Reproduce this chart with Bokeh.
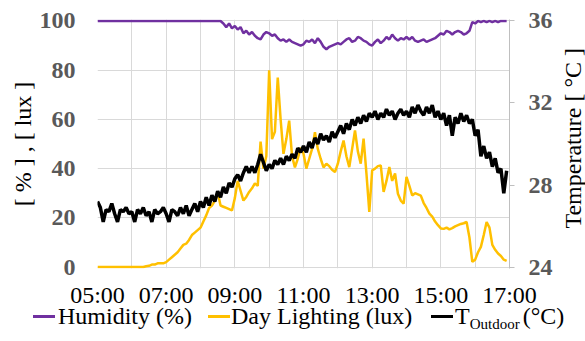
import numpy as np
from bokeh.plotting import figure
from bokeh.layouts import column, row
from bokeh.models import Range1d, LinearAxis, FixedTicker, Div
from bokeh.embed import file_html
from bokeh.resources import INLINE

# ---------------- data ----------------
x_ticks = [5, 7, 9, 11, 13, 15, 17]
x_tick_labels = ["05:00", "07:00", "09:00", "11:00", "13:00", "15:00", "17:00"]
grid_hours = [5, 6, 7, 8, 9, 10, 11, 12, 13, 14, 15, 16, 17]
left_ticks = [0, 20, 40, 60, 80, 100]
right_ticks = [24, 28, 32, 36]

start_hour = 5.0
step_minutes = 5

# Humidity (%) every 5 min from 05:00
humidity = [
    100, 100, 100, 100, 100, 100, 100, 100, 100, 100, 100, 100,
    100, 100, 100, 100, 100, 100, 100, 100, 100, 100, 100, 100,
    100, 100, 100, 100, 100, 100, 100, 100, 100, 100, 100, 100,
    100, 100, 100, 100, 100, 100, 100, 100, 99, 97.5, 99, 97,
    98, 96.5, 97.5, 95, 96, 94.5, 95.5, 94, 93, 92.5, 94.5, 95.5,
    95, 94, 94.5, 93, 92, 92.5, 91.5, 92.5, 91.5, 91, 90.5, 90,
    90.5, 92, 91.5, 92.5, 91, 93, 91.5, 89.5, 88.5, 89.5, 90, 90.5,
    91, 90.5, 91.5, 92.5, 93, 91.5, 92, 93.5, 93, 92, 91.5, 90.5,
    90, 91.5, 92.5, 91, 92, 93.5, 92.5, 94.5, 93, 92, 93, 92.5,
    93.5, 92.5, 93.5, 92, 91.5, 92, 92.5, 91.5, 92, 92.5, 93, 94,
    95, 94.5, 96, 95.5, 94.5, 95.5, 96, 95.5, 94.5, 95, 96, 99.5,
    99, 100, 99.5, 100, 99.5, 100, 99.5, 100, 99.5, 100, 100, 100,
]

# Day lighting (lux, scaled) every 5 min from 05:00
lux = [
    0, 0, 0, 0, 0, 0, 0, 0, 0, 0, 0, 0,
    0, 0, 0, 0, 0, 0.3, 0.5, 1, 1, 1.5, 1.5, 1.5,
    2, 3, 4, 5, 6, 7.5, 9, 9.5, 11, 13, 14, 15,
    16, 18.5, 21, 24, 25, 27, 30.5, 25, 24.5, 24, 23.5, 23,
    28, 35, 31, 27, 28.5, 30.5, 32, 34, 33, 51, 40, 45,
    80, 52, 55, 77, 60, 46, 52, 59.5, 45, 40.5, 44, 48.5,
    46, 40, 44, 48, 54.8, 48, 44, 40.5, 42, 41, 39.5, 38.6,
    42, 47, 51.4, 45, 40.6, 48, 55.5, 47, 42, 52.2, 38, 22.4,
    39.3, 40, 41, 41.3, 30.5, 35, 40.6, 35, 38, 29.8, 27, 25.8,
    36.6, 33, 29.1, 30, 29.5, 29, 26, 24, 21.7, 20.5, 18.5, 17,
    15.7, 15.5, 16, 15.3, 15.8, 16.5, 17, 17.5, 17.8, 18.3, 12, 2.1,
    3, 6, 8.2, 13, 18.3, 16, 9, 7, 5.5, 4.5, 3, 2.5,
]

# Outdoor temperature (°C) every 5 min from 05:00
temp = [
    27.2, 26.9, 26.2, 26.8, 26.7, 27.1, 26.6, 26.2, 26.8, 26.7, 26.9, 26.6,
    26.7, 26.2, 26.8, 26.6, 26.9, 26.5, 26.7, 26.2, 26.8, 26.6, 26.7, 26.9,
    26.6, 26.2, 26.8, 26.7, 26.5, 26.9, 26.6, 27.0, 26.5, 26.8, 27.1, 26.7,
    27.2, 26.9, 27.4, 27.0, 27.5, 27.2, 27.7, 27.4, 27.9, 27.6, 28.1, 27.9,
    28.3, 28.5, 28.2, 28.6, 28.9, 28.6, 28.9, 28.6, 29.0, 29.5, 29.1, 28.7,
    29.0, 28.8, 29.2, 29.0, 29.3, 29.0, 29.4, 29.2, 29.5, 29.3, 29.8, 29.6,
    29.9, 29.6, 30.1, 29.8, 30.3, 30.0, 30.5, 30.2, 30.4, 30.1, 30.6, 30.3,
    30.6, 30.9, 30.5, 31.0, 30.7, 31.2, 30.9, 31.3, 31.0, 31.4, 31.1, 31.5,
    31.3, 31.6, 31.2, 31.5, 31.3, 31.7, 31.4, 31.6, 31.2, 31.5, 31.7, 31.4,
    31.6, 31.3, 31.8, 31.5, 31.9, 31.6, 31.4, 31.8, 31.5, 31.9, 31.3, 31.6,
    31.2, 31.5, 30.9, 31.4, 30.4, 31.3, 31.0, 31.5, 31.1, 31.4, 31.0, 31.2,
    30.4, 30.7, 29.4, 29.9, 29.3, 29.6, 28.9, 29.3, 28.6, 28.8, 27.6, 28.7,
]

hours_h = start_hour + np.arange(len(humidity)) * step_minutes / 60.0
hours_l = start_hour + np.arange(len(lux)) * step_minutes / 60.0
hours_t = start_hour + np.arange(len(temp)) * step_minutes / 60.0

# ---------------- style ----------------
FONT = "Liberation Serif"
GRID = "#d9d9d9"
TICK_GRAY = "#595959"
PURPLE = "#7030A0"
YELLOW = "#FFC000"

FIG_H = 310
pad = 0.6  # keep lines at 0 / 100 fully visible
p = figure(width=560, height=FIG_H, output_backend="svg", toolbar_location=None,
           x_range=Range1d(5, 17), y_range=Range1d(-pad, 100 + pad),
           min_border_left=97, min_border_right=51, min_border_top=19,
           min_border_bottom=41)
p.extra_y_ranges = {"temp": Range1d(24 - pad * 0.12, 36 + pad * 0.12)}
p.outline_line_color = None
p.background_fill_color = "white"
p.border_fill_color = "white"

# grids
p.xgrid.ticker = FixedTicker(ticks=grid_hours)
p.ygrid.ticker = FixedTicker(ticks=left_ticks)
p.xgrid.grid_line_color = GRID
p.ygrid.grid_line_color = GRID
p.xgrid.grid_line_width = 1
p.ygrid.grid_line_width = 1

# x axis
xa = p.xaxis[0]
xa.ticker = FixedTicker(ticks=x_ticks)
xa.major_label_overrides = {t: s for t, s in zip(x_ticks, x_tick_labels)}
xa.major_label_text_font = FONT
xa.major_label_text_font_size = "24px"
xa.major_label_text_color = "black"
xa.major_tick_out = 0
xa.major_tick_in = 0
xa.minor_tick_out = 0
xa.minor_tick_in = 0
xa.axis_line_color = None
xa.major_label_standoff = 13

# left axis
ya = p.yaxis[0]
ya.ticker = FixedTicker(ticks=left_ticks)
ya.major_label_text_font = FONT
ya.major_label_text_font_size = "24px"
ya.major_label_text_font_style = "bold"
ya.major_label_text_color = TICK_GRAY
ya.major_tick_out = 0
ya.major_tick_in = 0
ya.minor_tick_out = 0
ya.minor_tick_in = 0
ya.axis_line_color = None
ya.major_label_standoff = 22
ya.axis_label = "[ % ] , [ lux ]"
ya.axis_label_text_font = FONT
ya.axis_label_text_font_size = "24px"
ya.axis_label_text_font_style = "normal"
ya.axis_label_text_color = "black"
ya.axis_label_standoff = 1

# right axis
ra = LinearAxis(y_range_name="temp", ticker=FixedTicker(ticks=right_ticks))
ra.major_label_text_font = FONT
ra.major_label_text_font_size = "24px"
ra.major_label_text_font_style = "bold"
ra.major_label_text_color = TICK_GRAY
ra.major_tick_out = 5
ra.major_tick_in = 0
ra.minor_tick_out = 0
ra.minor_tick_in = 0
ra.major_tick_line_color = "#bfbfbf"
ra.axis_line_color = "#bfbfbf"
ra.major_label_standoff = 14
p.add_layout(ra, "right")

# series
r_h = p.line(hours_h, humidity, line_color=PURPLE, line_width=2.5)
r_l = p.line(hours_l, lux, line_color=YELLOW, line_width=2.5)
r_t = p.line(hours_t, temp, line_color="black", line_width=3.5, y_range_name="temp")

# right axis title (HTML, reading bottom-to-top)
title_html = (
    '<div style="position:relative;width:25px;height:%dpx;">'
    '<span style="position:absolute;left:1px;top:48px;writing-mode:vertical-rl;'
    'transform:rotate(180deg);font-family:\'Liberation Serif\';font-size:24px;'
    'line-height:24px;white-space:nowrap;color:#000;">Temperature [ °C ]</span></div>'
) % FIG_H
title_div = Div(text=title_html, width=25, height=FIG_H, margin=(0, 0, 0, 0))

# legend (HTML, to allow the subscript)
key = ('<span style="position:absolute;left:{x}px;top:10px;width:22px;height:3px;'
       'background:{c};"></span>')
txt = ('<span style="position:absolute;left:{x}px;top:0px;line-height:22px;'
       'white-space:nowrap;">{t}</span>')
legend_html = (
    '<div style="position:relative;width:585px;height:36px;'
    "font-family:'Liberation Serif';font-size:24px;color:#000;\">"
    + key.format(x=33, c=PURPLE) + txt.format(x=58, t="Humidity (%)")
    + key.format(x=208, c=YELLOW) + txt.format(x=231, t="Day Lighting (lux)")
    + key.format(x=431, c="#000000")
    + txt.format(x=455, t='T<span style="font-size:15px;vertical-align:-5px;">Outdoor</span>'
                          '<span style="margin-left:3px;">(°C)</span>')
    + '</div>'
)
legend_div = Div(text=legend_html, width=585, height=36, margin=(-5, 0, 0, 0))

layout = column(row(p, title_div, spacing=0), legend_div, spacing=0)

open("out.html", "w").write(file_html(layout, INLINE))
